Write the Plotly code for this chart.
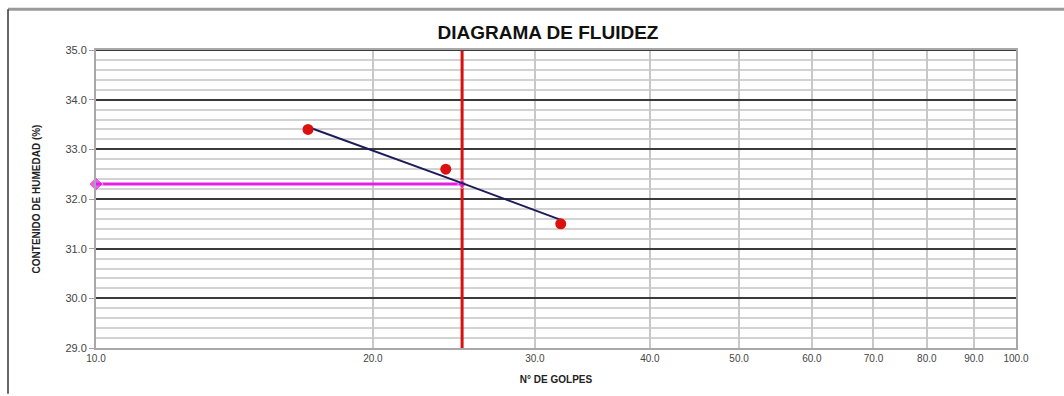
import plotly.graph_objects as go

# Ensayo de límite líquido: golpes vs. contenido de humedad
golpes = [17, 24, 32]
humedad = [33.4, 32.6, 31.5]

recta_x = [17, 25, 32]
recta_y = [33.45, 32.32, 31.58]

golpes_ref = 25
limite_liquido = 32.3

x_ticks = [10, 20, 30, 40, 50, 60, 70, 80, 90, 100]
x_labels = ["10.0", "20.0", "30.0", "40.0", "50.0", "60.0", "70.0", "80.0", "90.0", "100.0"]
y_ticks = [29, 30, 31, 32, 33, 34, 35]
y_labels = ["29.0", "30.0", "31.0", "32.0", "33.0", "34.0", "35.0"]

W, H = 1064, 396
ML, MR, MT, MB = 96, 48, 50, 46
PW, PH = W - ML - MR, H - MT - MB

fig = go.Figure()

# Línea vertical en 25 golpes
fig.add_trace(go.Scatter(
    x=[golpes_ref, golpes_ref], y=[y_ticks[0], y_ticks[-1]],
    mode="lines", line=dict(color="#d81010", width=3),
    showlegend=False, hoverinfo="skip"))

# Proyección horizontal del límite líquido
fig.add_trace(go.Scatter(
    x=[x_ticks[0], golpes_ref], y=[limite_liquido, limite_liquido],
    mode="lines+markers", line=dict(color="#e51ee5", width=3),
    marker=dict(symbol="diamond", size=[11, 7], color="#e51ee5"),
    cliponaxis=False, showlegend=False, hoverinfo="skip"))

# Recta de fluidez
fig.add_trace(go.Scatter(
    x=recta_x, y=recta_y, mode="lines",
    line=dict(color="#1c1c5c", width=2),
    showlegend=False))

# Puntos del ensayo
fig.add_trace(go.Scatter(
    x=golpes, y=humedad, mode="markers",
    marker=dict(color="#dd1010", size=11),
    showlegend=False))

def px_x(p):
    return (p - ML) / PW

def px_y(p):
    return (H - MB - p) / PH

# Marco exterior del gráfico
fig.add_shape(type="line", xref="paper", yref="paper",
              x0=px_x(8), x1=px_x(W), y0=px_y(9), y1=px_y(9),
              line=dict(color="#9a9a9a", width=3))
fig.add_shape(type="line", xref="paper", yref="paper",
              x0=px_x(8), x1=px_x(8), y0=px_y(9), y1=px_y(H),
              line=dict(color="#333333", width=1.5))
# Borde superior del área de trazado (línea mayor de 35.0)
fig.add_shape(type="line", xref="paper", yref="y",
              x0=0, x1=1, y0=y_ticks[-1], y1=y_ticks[-1],
              line=dict(color="#3a3a3a", width=2), layer="above")

fig.update_layout(
    width=W, height=H, autosize=False,
    margin=dict(l=ML, r=MR, t=MT, b=MB),
    paper_bgcolor="white", plot_bgcolor="white",
    font=dict(family="Liberation Sans, Arial, sans-serif", color="#333333"),
    title=dict(text="<b>DIAGRAMA DE FLUIDEZ</b>", x=548 / W, xanchor="center",
               y=1 - 32 / H, yanchor="middle",
               font=dict(size=19, color="#111111")),
    xaxis=dict(
        type="log", range=[1, 2],
        tickvals=x_ticks, ticktext=x_labels,
        tickfont=dict(size=10, color="#444444"),
        showgrid=True, gridcolor="#c8c8c8", gridwidth=2,
        showline=True, linecolor="#a8a8a8", linewidth=2, mirror=True,
        ticks="", zeroline=False,
        title=dict(text="<b>N° DE GOLPES</b>", standoff=13,
                   font=dict(size=10, color="#222222")),
    ),
    yaxis=dict(
        range=[29, 35],
        tickvals=y_ticks, ticktext=y_labels,
        tickfont=dict(size=11, color="#444444"),
        showgrid=True, gridcolor="#3a3a3a", gridwidth=2,
        minor=dict(dtick=0.2, showgrid=True, gridcolor="#d2d2d2", gridwidth=2),
        showline=True, linecolor="#a8a8a8", linewidth=2, mirror=True,
        ticks="outside", ticklen=5, tickcolor="#a0a0a0",
        zeroline=False,
        title=dict(text="<b>CONTENIDO DE HUMEDAD (%)</b>", standoff=23,
                   font=dict(family="Liberation Sans Narrow, Arial Narrow, Liberation Sans, sans-serif",
                             size=10, color="#222222")),
    ),
)

fig.write_html("out.html")
